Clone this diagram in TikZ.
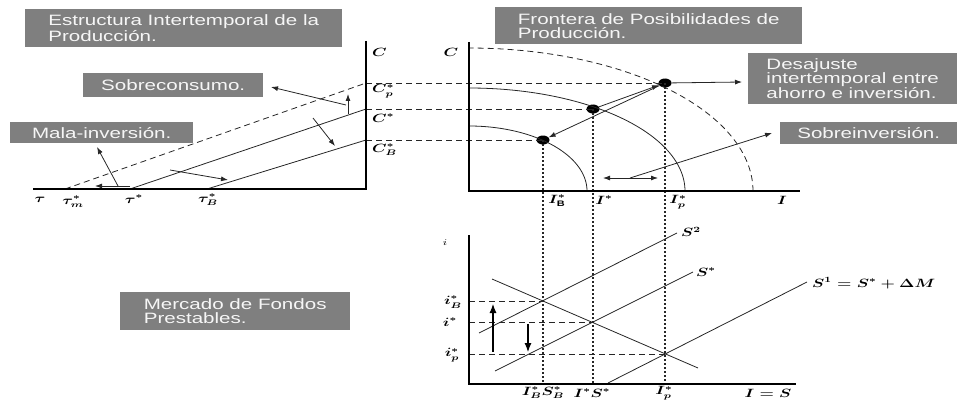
\documentclass[tikz,border=0pt]{standalone}
\usepackage{amsmath,amssymb}
\usepackage{graphicx}
\usepackage{fontspec}
\setmainfont{Liberation Sans}
\usetikzlibrary{positioning,calc}
\usetikzlibrary{arrows.meta,shapes.geometric}
\definecolor{BoxGray}{RGB}{127,127,127}
\definecolor{BoxText}{RGB}{246,246,246}
\newcommand{\wide}[1]{\scalebox{1.37}[1]{#1}}
\tikzset{
  infobox/.style={fill=BoxGray,text=BoxText,font=\fontsize{15}{14}\selectfont,
    align=left,inner sep=0pt,anchor=north west},
  axisline/.style={draw=black,line width=2.4pt},
  curve/.style={draw=black!85,line width=0.8pt},
  guide/.style={draw=black!85,line width=0.8pt,dash pattern=on 6pt off 4pt},
  drop/.style={draw=black!85,line width=1.2pt,dash pattern=on 2pt off 2pt},
  arr/.style={draw=black!85,line width=0.8pt,-{Latex[length=7pt,width=5pt]}},
  dblarr/.style={draw=black!85,line width=0.8pt,{Latex[length=7pt,width=5pt]}-{Latex[length=7pt,width=5pt]}},
  bigarr/.style={draw=black,line width=1.1pt,-{Latex[length=9pt,width=7pt]}},
  lbl/.style={font=\fontsize{12}{14}\selectfont\boldmath,inner sep=0pt},
  eqpt/.style={ellipse,fill=black,inner sep=0pt,minimum width=13pt,minimum height=9pt},
}
\begin{document}
\begin{tikzpicture}[x=1pt,y=-1pt]
\useasboundingbox (0,0) rectangle (957,401);
% boxes
\node[infobox,minimum width=317pt,minimum height=38pt] (estructura) at (25,9)
  {\wide{Estructura Intertemporal de la}\\\wide{Producción.}};
\node[infobox,minimum width=307pt,minimum height=37pt] (frontera) at (495,7)
  {\wide{Frontera de Posibilidades de}\\\wide{Producción.}};
\node[infobox,minimum width=180pt,minimum height=24pt] (sobrecons) at (83,73)
  {\wide{Sobreconsumo.}};
\node[infobox,minimum width=183pt,minimum height=21pt] (malainv) at (10,122)
  {\wide{Mala-inversión.}};
\node[infobox,minimum width=209pt,minimum height=51pt] (desajuste) at (748,53)
  {\wide{Desajuste}\\\wide{intertemporal entre}\\\wide{ahorro e inversión.}};
\node[infobox,minimum width=177pt,minimum height=22pt] (sobreinv) at (780,122)
  {\wide{Sobreinversión.}};
\node[infobox,minimum width=230pt,minimum height=38pt] (mercado) at (120,292)
  {\wide{Mercado de Fondos}\\\wide{Prestables.}};
% axes
\coordinate (lTop) at (366,41);
\coordinate (lO) at (366,189);
\coordinate (lEnd) at (33,189);
\coordinate (rTop) at (469,42);
\coordinate (rO) at (469,191);
\coordinate (rEnd) at (800,191);
\coordinate (bTop) at (469,235);
\coordinate (bO) at (469,384);
\coordinate (bEnd) at (796,384);
% equilibrium points
\node[eqpt] (ptP) at (665,83) {};
\node[eqpt] (ptS) at (593,109) {};
\node[eqpt] (ptB) at (543,140) {};
\coordinate (cP) at (366,83);
\coordinate (cS) at (366,109);
\coordinate (cB) at (366,140);
\draw[guide] (cP) -- (ptP.center);
\draw[guide] (cS) -- (ptS.center);
\draw[guide] (cB) -- (ptB.center);
% left panel
\coordinate (tauM) at (65,189);
\coordinate (tauS) at (130,189);
\coordinate (tauB) at (207,189);
\draw[guide] (tauM) -- (cP);
\draw[curve] (tauS) -- (cS);
\draw[curve] (tauB) -- (cB);
\coordinate (consLow) at (348,114);
\coordinate (consUp) at (348,94);
\coordinate (consMid) at (346,105);
\coordinate (consTip) at (271,87);
\draw[arr] (consLow) -- (consUp);
\draw[arr] (consMid) -- (consTip);
\coordinate (shiftA1) at (313,118);
\coordinate (shiftA2) at (335,146);
\draw[arr] (shiftA1) -- (shiftA2);
\coordinate (shiftB1) at (170,170);
\coordinate (shiftB2) at (228,180);
\draw[arr] (shiftB1) -- (shiftB2);
\coordinate (malaBase) at (118,186);
\coordinate (malaTip) at (97,147);
\coordinate (malaR) at (130,186);
\coordinate (malaL) at (95,186);
\draw[arr] (malaBase) -- (malaTip);
\draw[arr] (malaR) -- (malaL);
% frontiers
\draw[guide] plot[domain=0:90,samples=60] ({469+284*cos(\x)},{191-143*sin(\x)});
\draw[curve] plot[domain=0:90,samples=60] ({469+216*cos(\x)},{191-103*sin(\x)});
\draw[curve] plot[domain=0:90,samples=60] ({469+118*cos(\x)},{191-65*sin(\x)});
% right panel arrows
\coordinate (desajTip) at (742,82);
\coordinate (invL) at (603,178);
\coordinate (invR) at (658,178);
\coordinate (invM) at (630,178);
\coordinate (sobTip) at (772,133);
\draw[arr] (ptS) -- (ptP);
\draw[arr] (ptP) -- (ptB);
\draw[arr] (ptP) -- (desajTip);
\draw[dblarr] (invL) -- (invR);
\draw[arr] (invM) -- (sobTip);
% loanable funds
\coordinate (iB) at (543,301);
\coordinate (iS) at (593,322);
\coordinate (iP) at (665,354);
\coordinate (iBax) at (469,301);
\coordinate (iSax) at (469,322);
\coordinate (iPax) at (469,354);
\coordinate (vB) at (543,384);
\coordinate (vS) at (593,384);
\coordinate (vP) at (665,384);
\draw[drop] (ptB.center) -- (vB);
\draw[drop] (ptS.center) -- (vS);
\draw[drop] (ptP.center) -- (vP);
\draw[guide] (iBax) -- (iB);
\draw[guide] (iSax) -- (iS);
\draw[guide] (iPax) -- (iP);
\coordinate (dA) at (492,279);
\coordinate (dB) at (698,368);
\coordinate (s2A) at (479,333);
\coordinate (s2B) at (677,233);
\coordinate (ssA) at (495,371);
\coordinate (ssB) at (693,272);
\coordinate (s1A) at (608,383);
\coordinate (s1B) at (807,282);
\draw[curve] (dA) -- (dB);
\draw[curve] (s2A) -- (s2B);
\draw[curve] (ssA) -- (ssB);
\draw[curve] (s1A) -- (s1B);
\coordinate (upA) at (493,352);
\coordinate (upB) at (493,304);
\coordinate (dnA) at (528,324);
\coordinate (dnB) at (528,352);
\draw[bigarr] (upA) -- (upB);
\draw[bigarr] (dnA) -- (dnB);
\draw[axisline] (lTop) -- (lO) -- (lEnd);
\draw[axisline] (rTop) -- (rO) -- (rEnd);
\draw[axisline] (bTop) -- (bO) -- (bEnd);
% labels
\node[lbl,anchor=west] (labC) at (372,52) {\wide{$C$}};
\node[lbl,anchor=west] (labCp) at (372,91) {\wide{$C^*_p$}};
\node[lbl,anchor=west] (labCs) at (372,118) {\wide{$C^*$}};
\node[lbl,anchor=west] (labCb) at (372,150) {\wide{$C^*_B$}};
\node[lbl] (labC2) at (451,52) {\wide{$C$}};
\node[lbl] (labTau) at (40,200) {\wide{$\tau$}};
\node[lbl] (labTauM) at (73,202) {\wide{$\tau^*_m$}};
\node[lbl] (labTauS) at (134,199) {\wide{$\tau^*$}};
\node[lbl] (labTauB) at (208,200) {\wide{$\tau^*_B$}};
\node[lbl] (labIB) at (557,201) {\wide{$I^*_{\mathrm{B}}$}};
\node[lbl] (labIS) at (604,200) {\wide{$I^*$}};
\node[lbl] (labIP) at (678,202) {\wide{$I^*_p$}};
\node[lbl] (labI) at (782,200) {\wide{$I$}};
\node[font=\fontsize{9}{11}\selectfont,inner sep=0pt] (labi) at (445,243) {\wide{$i$}};
\node[lbl] (labiB) at (453,302) {\wide{$i^*_B$}};
\node[lbl] (labiS) at (450,322) {\wide{$i^*$}};
\node[lbl] (labiP) at (452,355) {\wide{$i^*_p$}};
\node[lbl,anchor=west] (labS2) at (681,232) {\wide{$S^2$}};
\node[lbl,anchor=west] (labSS) at (696,272) {\wide{$S^*$}};
\node[lbl,anchor=west] (labS1) at (812,283) {\wide{$S^1=S^*+\Delta M$}};
\node[lbl] (labBB) at (543,393) {\wide{$I^*_BS^*_B$}};
\node[lbl] (labSSb) at (592,393) {\wide{$I^*S^*$}};
\node[lbl] (labPP) at (664,393) {\wide{$I^*_p$}};
\node[lbl] (labIS2) at (768,393) {\wide{$I=S$}};
\end{tikzpicture}
\end{document}
